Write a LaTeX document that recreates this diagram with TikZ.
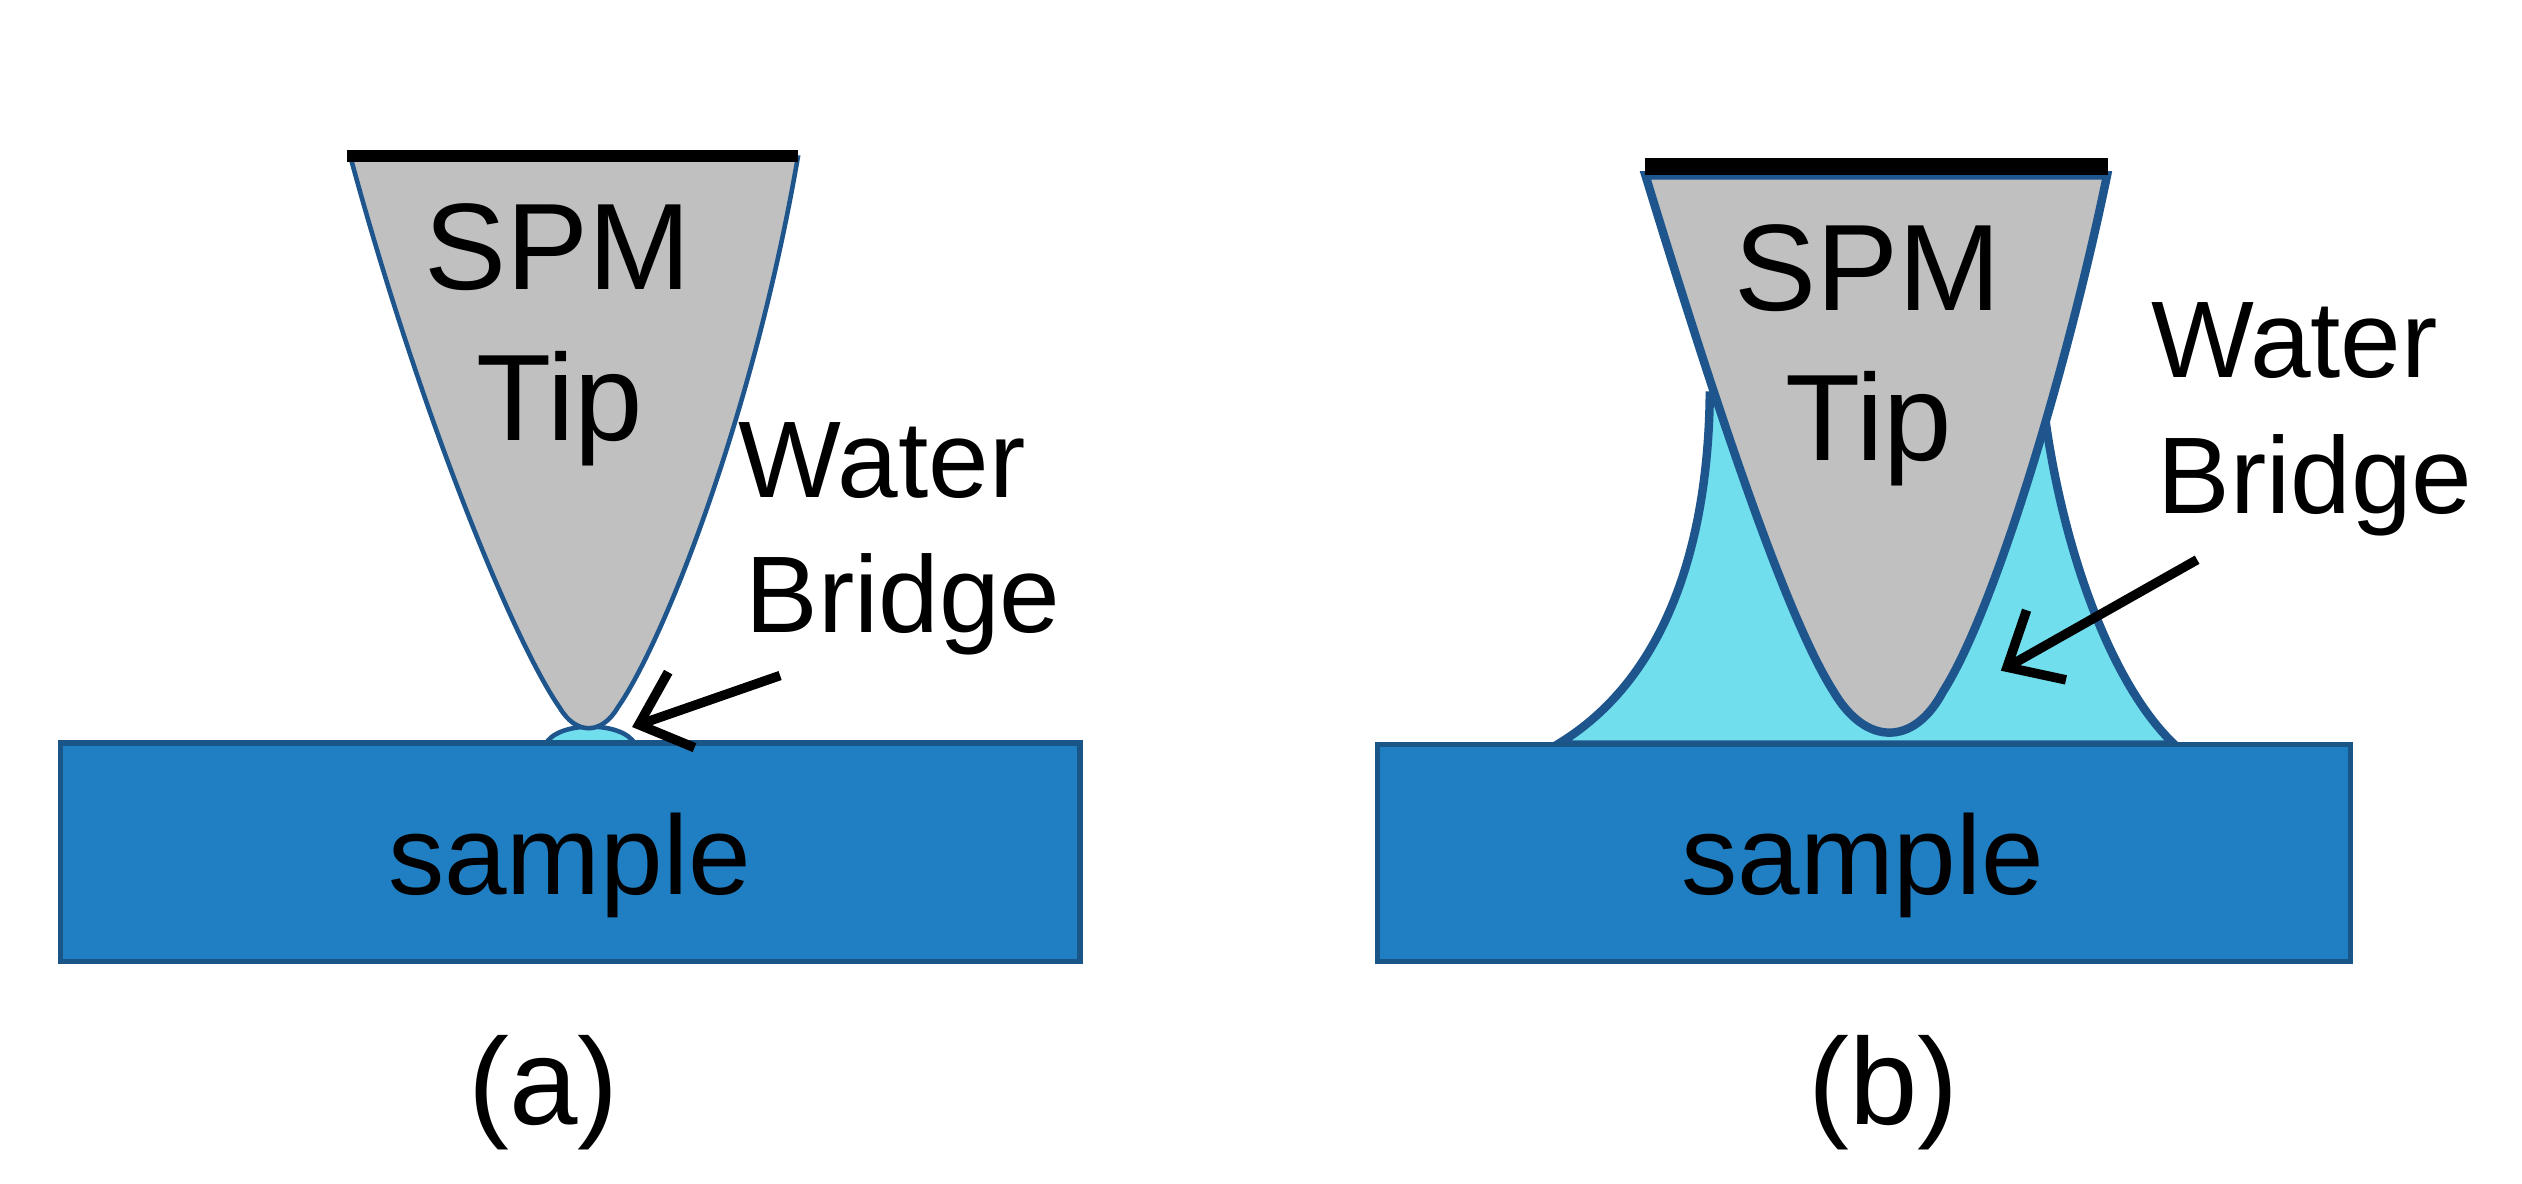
\documentclass[tikz,border=0pt]{standalone}
\usepackage{fontspec}
\setmainfont{Liberation Sans}
\usetikzlibrary{arrows.meta}
\begin{document}
\begin{tikzpicture}[x=0.01608cm,y=-0.01608cm,
  tipa/.style={fill=tipgray,draw=edgeb,line width=1.3pt},
  tipb/.style={fill=tipgray,draw=edgeb,line width=2.4pt},
  samp/.style={fill=sampb,draw=sampe,line width=1.5pt},
  wata/.style={fill=waterc,draw=edgeb,line width=1.3pt},
  watb/.style={fill=waterc,draw=edgeb,line width=2.4pt},
  arr/.style={-{Straight Barb[length=4.5mm,width=8mm]},line width=2.7pt},
  big/.style={font=\fontsize{35}{40}\selectfont,anchor=base,inner sep=0pt},
  smp/.style={font=\fontsize{32}{36}\selectfont,anchor=base,inner sep=0pt},
  wl/.style={font=\fontsize{31}{36}\selectfont,anchor=base west,inner sep=0pt}]
\definecolor{tipgray}{RGB}{192,192,192}
\definecolor{edgeb}{RGB}{30,85,140}
\definecolor{sampb}{RGB}{32,126,194}
\definecolor{sampe}{RGB}{25,85,135}
\definecolor{waterc}{RGB}{112,222,236}
\useasboundingbox[fill=white] (0,0) rectangle (1568,736);
% panel a
\path[wata] (339,463) .. controls (346,448) and (388,448) .. (395,463) -- cycle;
\path[samp] (37.5,462) rectangle (671.5,598);
\path[tipa] (218,98) .. controls (262,260) and (320,400) .. (348,440) .. controls (358,457) and (374,457) .. (384,440) .. controls (412,400) and (468,260) .. (496,98) -- cycle;
\draw[line width=3.6pt] (216,97) -- (496,97);
\node[big] (spma) at (347,180) {SPM};
\node[big] (tipa) at (348,274) {Tip};
\node[wl] (wa) at (459,309) {Water};
\node[wl] (ba) at (463,393) {Bridge};
\node[smp] (sa) at (354,556) {sample};
\node[big] (la) at (338,699) {(a)};
\coordinate (a1) at (485,420); \coordinate (a2) at (393,452);
\draw[arr] (a1) -- (a2);
% panel b
\path[watb] (968,463) .. controls (1040,420) and (1062,330) .. (1063,246) -- (1271,256) .. controls (1282,340) and (1312,425) .. (1352,463) -- cycle;
\path[samp] (856.5,463) rectangle (1461.5,598);
\path[tipb] (1023,109) .. controls (1060,230) and (1108,380) .. (1140,430) .. controls (1160,464) and (1190,464) .. (1208,430) .. controls (1240,380) and (1285,230) .. (1310,109) -- cycle;
\draw[line width=4.7pt] (1023,103.5) -- (1310.5,103.5);
\node[big] (spmb) at (1161,193) {SPM};
\node[big] (tipb) at (1162,286) {Tip};
\node[wl] (wb) at (1337,235) {Water};
\node[wl] (bb) at (1341,319) {Bridge};
\node[smp] (sb) at (1158,556) {sample};
\node[big] (lb) at (1171,699) {(b)};
\coordinate (b1) at (1366,348); \coordinate (b2) at (1244,417);
\draw[arr] (b1) -- (b2);
\end{tikzpicture}
\end{document}
